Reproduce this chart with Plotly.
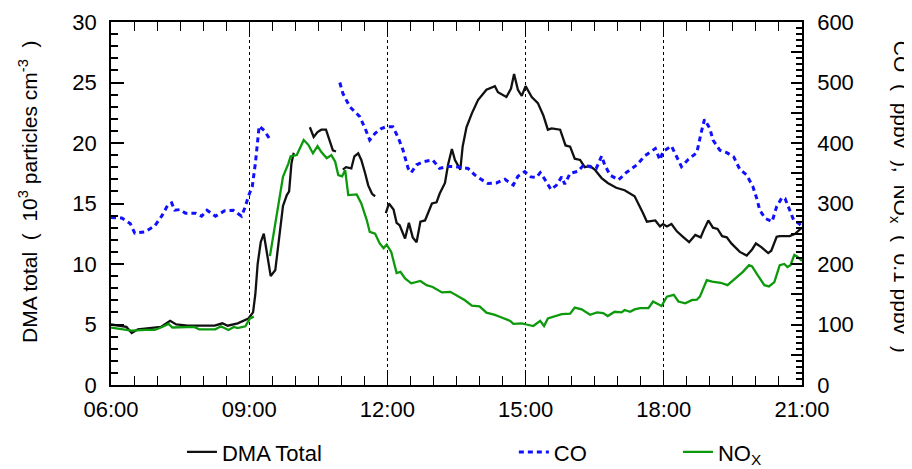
import plotly.graph_objects as go

# ---------------- data ----------------
dma_time = ["06:00","06:10","06:20","06:27","06:35","06:50","07:05","07:17","07:25","07:40","08:00","08:15","08:25","08:32","08:45","08:59",
            "09:05","09:08","09:11","09:15","09:19","09:23","09:28","09:34","09:40","09:44","09:49","09:52","09:55","09:58",
            None,
            "10:19","10:24","10:29","10:34","10:40","10:45","10:49","10:53",
            None,
            "11:02","11:06","11:13","11:17","11:22","11:26","11:31","11:35","11:40","11:44",
            None,
            "11:58","12:02","12:08","12:12","12:16","12:23","12:28","12:33","12:38","12:43","12:49","12:58","13:04","13:08","13:15","13:19",
            "13:24","13:28","13:35","13:38","13:43","13:50","13:58","14:09","14:20","14:24","14:35","14:41","14:45","14:50","14:55","15:00",
            "15:08","15:16","15:23","15:29","15:34","15:45","15:52","15:58","16:04","16:11","16:17","16:24","16:30","16:39","16:47","16:58",
            "17:09","17:16","17:22","17:33","17:38","17:49","17:55","17:59","18:04","18:10","18:17","18:25","18:33","18:41","18:48","18:52",
            "18:58","19:04","19:10","19:16","19:22","19:28","19:39","19:48","19:55","20:00","20:07","20:16","20:20","20:27","20:31","20:44",
            "20:51","20:58","21:00"]
dma_total = [5.0,4.9,4.8,4.3,4.6,4.7,4.8,5.3,5.0,4.9,4.9,4.9,5.1,4.9,5.1,5.5,
             6.0,7.5,10.0,11.8,12.5,11.0,9.0,9.5,13.0,14.8,15.7,16.0,18.3,19.2,
             None,
             21.3,20.5,20.9,21.1,21.1,20.2,19.4,19.3,
             None,
             17.8,18.0,17.9,18.9,19.15,18.6,17.5,16.5,15.8,15.6,
             None,
             14.2,15.0,14.5,13.4,13.2,12.1,13.4,12.2,11.8,13.5,13.6,15.0,15.1,15.8,16.7,18.2,
             19.5,18.6,17.8,19.7,21.3,22.45,23.55,24.4,24.7,24.2,23.8,24.5,25.7,24.4,23.9,24.7,
             23.8,23.3,22.3,21.1,21.2,21.1,19.8,19.7,18.7,18.6,18.0,18.1,17.8,17.1,16.7,16.3,
             16.1,15.8,15.6,14.2,13.5,13.6,13.1,13.3,13.1,13.3,12.7,12.25,11.8,12.4,12.2,12.8,
             13.6,13.0,12.9,12.3,12.2,11.7,11.0,10.7,11.2,11.7,11.4,10.9,11.1,12.25,12.3,12.3,
             12.5,12.9,13.0]

co_time = ["06:00","06:14","06:25","06:31","06:44","06:57","07:06","07:14","07:19","07:23","07:30","07:37","07:50","07:58","08:05","08:16",
           "08:28","08:39","08:50","08:55","08:59","09:04","09:08","09:11","09:13","09:20","09:28",
           None,
           "10:58","11:02","11:11","11:24","11:31","11:37","11:44","11:52","11:59","12:07","12:14","12:20","12:27","12:31","12:38","12:47",
           "12:59","13:08","13:17","13:28","13:45","13:54","14:02","14:11","14:22","14:33","14:44","14:50","14:59","15:07","15:14","15:19",
           "15:25","15:33","15:40","15:47","15:51","15:58","16:08","16:16","16:26","16:32","16:39","16:43","16:50","17:01","17:11","17:22",
           "17:25","17:35","17:49","17:55","17:59","18:10","18:23","18:32","18:43","18:49","18:53","19:00","19:04","19:13","19:22","19:31",
           "19:39","19:48","19:56","20:01","20:05","20:12","20:21","20:27","20:34","20:38","20:43","20:49","20:56","21:00"]
co_ppbv = [277,276,267,251,253,263,279,297.5,301,289,290,284,284,279,289,279,
           288,289,279,295,312,328,366,399,428,420,404,
           None,
           500,482,460,443.5,424,405,416,424,427,427,409,389.5,358,351,364,369,
           372,358,361,361,358,347,340,333,334,340,330.6,345,352.6,344,343,351,
           340,323,330,344,332,350,353,364,360,358,378.5,364,347,339,351,361,
           364,378.5,391,372,386,395,361,373,384,419,439,424,405,388,384,377,
           356.5,347,328,308.5,289,275.5,270,295,310,308,292,273,267,262]

nox_time = ["06:00","06:10","06:27","06:45","06:57","07:05","07:15","07:20","07:45","07:48","07:55","08:16","08:23","08:33","08:40","08:45",
            "08:55","09:01","09:06",
            None,
            "09:27","09:34","09:40","09:44","09:51","09:54","10:02","10:07","10:11","10:17","10:23","10:29","10:34","10:41","10:47","10:52",
            "10:56","11:01","11:05","11:09","11:20","11:26","11:33","11:37","11:44","11:50","11:55","11:59","12:05","12:12","12:17","12:23",
            "12:31","12:43","12:51","12:59","13:11","13:22","13:31","13:41","13:50","14:00","14:09","14:20","14:28","14:40","14:44","14:55",
            "15:01","15:10","15:19","15:24","15:29","15:38","15:47","15:58","16:04","16:13","16:24","16:33","16:41","16:47","16:56","17:05",
            "17:09","17:16","17:22","17:29","17:40","17:46","17:51","17:57","18:04","18:13","18:19","18:28","18:37","18:43","18:47","18:52",
            "18:56","19:03","19:14","19:23","19:31","19:43","19:51","19:55","20:02","20:11","20:17","20:24","20:31","20:37","20:41","20:45",
            "20:50","20:54","21:00"]
nox_01ppbv = [95,93,90,91,91,95,101,95,95,96,92,92,97,91,96,94,
              97,110,113,
              None,
              213,267,315,344,366,378,380,394,405,397,383,395,385,375,380,369,
              347,345,355,314,315,300,273,253,250,234,226,232,220,185,187,176,
              168,172,165,162,153,154,147,140,131,130,119.5,116,112,106,101,102,
              100,97.5,106,97.5,110,114,117,118,128,125,116,120,119,114,121,120,
              124,121,125,127,127,138,135,130.6,146,149,138,135,140.5,141,146,162.5,
              173.5,171,169,165,173.5,187,198,196,182,165,163,170,198,200,195,198,
              215,212,205]

left_ticks = [0, 5, 10, 15, 20, 25, 30]
right_tickvals = list(range(0, 601, 50))
right_ticktext = [str(v) if v % 100 == 0 else " " for v in right_tickvals]

DAY = "2000-01-01 "
def stamp(ts):
    return [None if t is None else DAY + t for t in ts]

FONT = "Liberation Sans, Arial, sans-serif"

fig = go.Figure()
fig.add_trace(go.Scatter(x=stamp(dma_time), y=dma_total, mode="lines", name="DMA Total", showlegend=True,
                         line=dict(color="#111111", width=2.3), connectgaps=False, legend="legend"))
fig.add_trace(go.Scatter(x=stamp(co_time), y=co_ppbv, mode="lines", name="CO", yaxis="y2", showlegend=True,
                         line=dict(color="#1010ff", width=3, dash="5px,4px"), connectgaps=False, legend="legend2"))
fig.add_trace(go.Scatter(x=stamp(nox_time), y=nox_01ppbv, mode="lines", name="NO<sub>X</sub>", yaxis="y2", showlegend=True,
                         line=dict(color="#0c9a0c", width=2.3), connectgaps=False, legend="legend3"))

tickfont = dict(family=FONT, size=22, color="black")
legend_common = dict(y=-0.185, xanchor="left", yanchor="middle", orientation="h", font=tickfont,
                     bgcolor="rgba(0,0,0,0)", visible=True)
fig.update_layout(
    width=904, height=461,
    showlegend=True,
    margin=dict(l=103, r=110, t=14, b=84, autoexpand=False),
    paper_bgcolor="white", plot_bgcolor="white",
    font=dict(family=FONT, size=22, color="black"),
    xaxis=dict(type="date", range=[DAY + "06:00", DAY + "21:00"], automargin=False,
               tick0=DAY + "06:00", dtick=3 * 3600 * 1000, tickformat="%H:%M",
               ticks="inside", ticklen=15, tickwidth=1, tickcolor="black",
               showline=True, linecolor="black", linewidth=1.5, mirror="ticks",
               showgrid=True, gridcolor="black", gridwidth=1, griddash="dot",
               minor=dict(dtick=30 * 60 * 1000, ticks="inside", ticklen=9, tickcolor="black", showgrid=False),
               tickfont=tickfont, zeroline=False, ticklabelstandoff=4),
    yaxis=dict(range=[0, 30], tickvals=left_ticks, ticks="inside", ticklen=13, tickwidth=1.5, tickcolor="black",
               showline=True, linecolor="black", linewidth=1.5, showgrid=False, zeroline=False, automargin=False,
               minor=dict(dtick=1, ticks="inside", ticklen=7, tickcolor="black"),
               tickfont=tickfont, ticklabelstandoff=8),
    yaxis2=dict(range=[0, 600], overlaying="y", side="right", tickvals=right_tickvals, ticktext=right_ticktext,
                ticks="inside", ticklen=11, tickwidth=1.5, tickcolor="black", automargin=False,
                showline=True, linecolor="black", linewidth=1.5, showgrid=False, zeroline=False,
                minor=dict(dtick=10, ticks="inside", ticklen=6, tickcolor="black"),
                tickfont=tickfont, ticklabelstandoff=9),
    legend=dict(x=0.1027, **legend_common),
    legend2=dict(x=0.583, **legend_common),
    legend3=dict(x=0.8205, **legend_common),
    annotations=[
        dict(text="DMA total  (  10<sup>3</sup> particles cm<sup>-3</sup>  )", textangle=-90,
             xref="paper", yref="paper", x=-0.12, y=0.532, xanchor="center", yanchor="middle",
             showarrow=False, font=dict(family=FONT, size=21, color="black")),
        dict(text="CO  (  ppbv  ),  NO<sub>x</sub>  (  0.1 ppbv  )", textangle=90,
             xref="paper", yref="paper", x=1.142, y=0.518, xanchor="center", yanchor="middle",
             showarrow=False, font=dict(family=FONT, size=21, color="black")),
    ],
)

fig.write_html("out.html")
